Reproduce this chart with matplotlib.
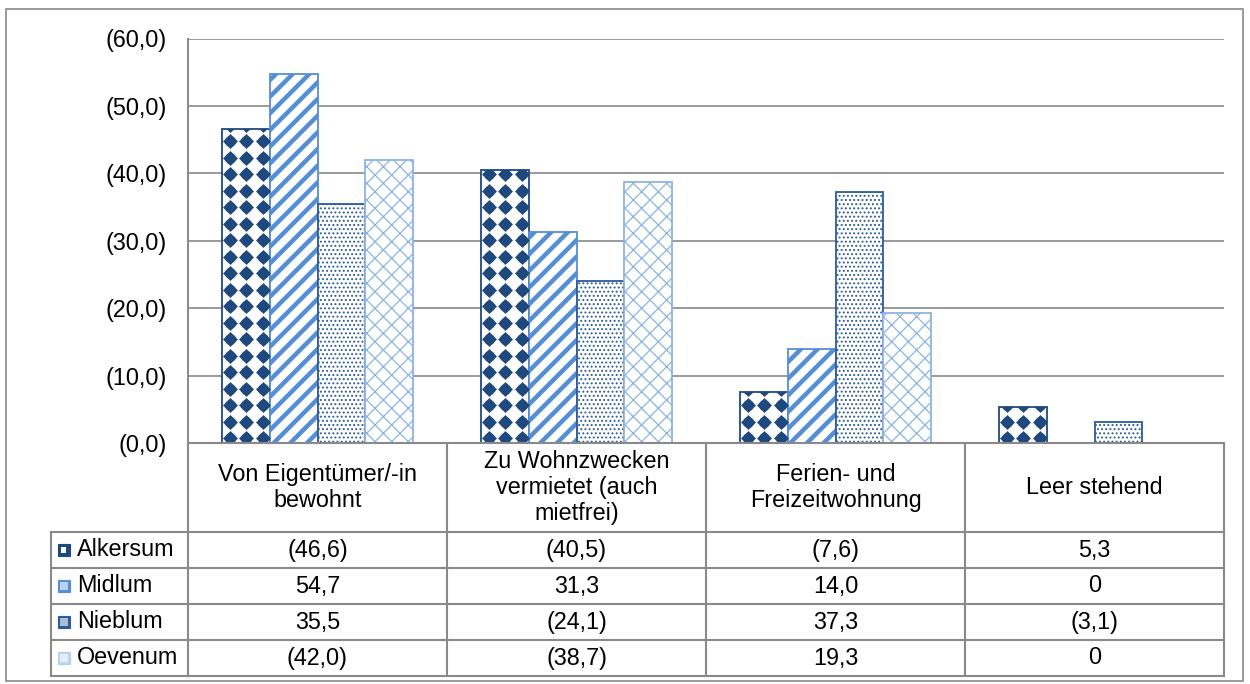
import numpy as np
import matplotlib
matplotlib.use("Agg")
import matplotlib.pyplot as plt
from matplotlib.lines import Line2D
from matplotlib.patches import Rectangle
from matplotlib import transforms
from matplotlib.ticker import FuncFormatter

# ---- data -----------------------------------------------------------------
categories = [
    "Von Eigentümer/-in\nbewohnt",
    "Zu Wohnzwecken\nvermietet (auch\nmietfrei)",
    "Ferien- und\nFreizeitwohnung",
    "Leer stehend",
]
series_names = ["Alkersum", "Midlum", "Nieblum", "Oevenum"]
alkersum = [46.6, 40.5, 7.6, 5.3]
midlum = [54.7, 31.3, 14.0, 0.0]
nieblum = [35.5, 24.1, 37.3, 3.1]
oevenum = [42.0, 38.7, 19.3, 0.0]
# values shown in brackets in the data table (low case numbers)
alkersum_bracket = [True, True, True, False]
midlum_bracket = [False, False, False, False]
nieblum_bracket = [False, True, False, True]
oevenum_bracket = [True, True, False, False]
y_ticks = [0, 10, 20, 30, 40, 50, 60]

series_values = [alkersum, midlum, nieblum, oevenum]
series_brackets = [alkersum_bracket, midlum_bracket, nieblum_bracket, oevenum_bracket]

# ---- styling --------------------------------------------------------------
W, H, DPI = 1250, 684, 100
FONT = "Liberation Sans"
FS = 16.8
GRID = "#898989"
NAVY = "#1F497D"
MID = "#558ED5"
NIE = "#2C5C96"
OEV = "#8DB4E2"

plt.rcParams["font.family"] = [FONT, "DejaVu Sans"]


def fx(x):
    return x / W


def fy(y):
    return 1 - y / H


def fmt_value(v, bracket):
    s = "0" if v == 0 else f"{v:.1f}".replace(".", ",")
    return f"({s})" if bracket else s


fig = plt.figure(figsize=(W / DPI, H / DPI), dpi=DPI)
ax_left, ax_right, ax_top, ax_bottom = 188, 1224, 38.5, 443
ax = fig.add_axes([fx(ax_left), fy(ax_bottom), (ax_right - ax_left) / W,
                   (ax_bottom - ax_top) / H])
ax.set_xlim(0, len(categories))
ax.set_ylim(0, 60)

# grid and axes frame
ax.set_yticks(y_ticks)
ax.yaxis.set_major_formatter(
    FuncFormatter(lambda v, p: "(" + f"{v:.1f}".replace(".", ",") + ")"))
ax.tick_params(axis="y", length=0, pad=15.5, labelsize=FS, labelcolor="black")
ax.set_xticks([])
ax.grid(axis="y", color=GRID, linewidth=1.2)
ax.set_axisbelow(True)
for side in ["top", "right"]:
    ax.spines[side].set_visible(False)
for side in ["left", "bottom"]:
    ax.spines[side].set_color(GRID)
    ax.spines[side].set_linewidth(1.4)

# bars
n = len(series_names)
bar_w = 0.1834
x = np.arange(len(categories)) + 0.5
styles = [
    dict(edgecolor=NAVY, hatch=None, hlw=1.0),
    dict(edgecolor=MID, hatch="//", hlw=3.2),
    dict(edgecolor=NIE, hatch="....", hlw=0.9),
    dict(edgecolor=OEV, hatch="xx", hlw=0.9),
]
bar_groups = []
for j, (vals, st) in enumerate(zip(series_values, styles)):
    with plt.rc_context({"hatch.linewidth": st["hlw"]}):
        bars = ax.bar(x + (j - (n - 1) / 2) * bar_w, vals, width=bar_w,
                      facecolor="white", edgecolor=st["edgecolor"],
                      hatch=st["hatch"], linewidth=1.3, zorder=3)
    for b, v in zip(bars, vals):
        if hasattr(b, "set_hatch_linewidth"):
            b.set_hatch_linewidth(st["hlw"])
        if v == 0:
            b.set_visible(False)
    bar_groups.append(bars)

# navy rounded-diamond pattern inside the Alkersum bars
step = 16.5
inv = ax.transData.inverted()
for b in bar_groups[0]:
    if not b.get_visible():
        continue
    (x0, y0), (x1, y1) = ax.transData.transform(
        [(b.get_x(), 0), (b.get_x() + b.get_width(), b.get_height())])
    xs = np.arange(x0 + 7.5, x1 + step, step)
    ys = np.arange(y0 + 5, y1 + step, step)
    gx, gy = np.meshgrid(xs, ys)
    pts = inv.transform(np.column_stack([gx.ravel(), gy.ravel()]))
    for marker, size in [("D", 58), ("o", 62)]:
        sc = ax.scatter(pts[:, 0], pts[:, 1], marker=marker, s=size,
                        color=NAVY, linewidths=0, zorder=3.5)
        sc.set_clip_path(b)

# ---- data table -----------------------------------------------------------
line_kw = dict(color=GRID, linewidth=1.5, transform=fig.transFigure)
header_top, header_bottom = 443, 532
row_h = 36
rows_y = [header_bottom + i * row_h for i in range(n + 1)]
legend_left = 51

fig.add_artist(Line2D([fx(ax_left), fx(ax_right)], [fy(header_top)] * 2, **line_kw))
for yy in rows_y:
    fig.add_artist(Line2D([fx(legend_left), fx(ax_right)], [fy(yy)] * 2, **line_kw))
fig.add_artist(Line2D([fx(legend_left)] * 2, [fy(rows_y[0]), fy(rows_y[-1])], **line_kw))

blend = transforms.blended_transform_factory(ax.transData, fig.transFigure)
for k in range(len(categories) + 1):
    fig.add_artist(Line2D([k, k], [fy(header_top), fy(rows_y[-1])],
                          color=GRID, linewidth=1.5, transform=blend))

for i, cat in enumerate(categories):
    fig.text(x[i], fy((header_top + header_bottom) / 2), cat, transform=blend,
             ha="center", va="center", multialignment="center", fontsize=FS,
             linespacing=1.15)

for j, name in enumerate(series_names):
    yc = rows_y[j] + row_h / 2
    for i in range(len(categories)):
        fig.text(x[i], fy(yc), fmt_value(series_values[j][i], series_brackets[j][i]),
                 transform=blend, ha="center", va="center", fontsize=FS)
    fig.text(fx(77), fy(yc), name, ha="left", va="center", fontsize=FS)

    # legend key
    kx, ky, ks = 58, yc - 6, 12
    st = styles[j]
    if j == 0:
        fig.add_artist(Rectangle((fx(kx), fy(ky + ks)), ks / W, ks / H,
                                 transform=fig.transFigure, facecolor=NAVY,
                                 edgecolor=NAVY, linewidth=0.8))
        fig.add_artist(Rectangle((fx(kx + 3), fy(ky + ks - 3)), 5 / W, 6 / H,
                                 transform=fig.transFigure, facecolor="white",
                                 edgecolor="none"))
    else:
        key = Rectangle((fx(kx), fy(ky + ks)), ks / W, ks / H,
                        transform=fig.transFigure, facecolor=st["edgecolor"],
                        edgecolor=st["edgecolor"], linewidth=0.8,
                        alpha=0.55 if j == 3 else 1)
        fig.add_artist(key)
        inner = Rectangle((fx(kx + 2), fy(ky + ks - 2)), (ks - 4) / W, (ks - 4) / H,
                          transform=fig.transFigure, facecolor="white",
                          edgecolor="none", alpha=0.6)
        fig.add_artist(inner)

# outer frame
fig.add_artist(Rectangle((fx(6), fy(681)), (1243 - 6) / W, (681 - 9) / H,
                         transform=fig.transFigure, facecolor="none",
                         edgecolor=GRID, linewidth=1.2))

fig.savefig("out.png", dpi=DPI)
